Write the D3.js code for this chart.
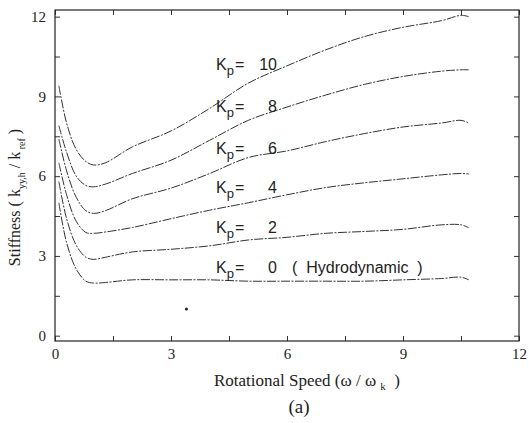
<!DOCTYPE html>
<html>
<head>
<meta charset="utf-8">
<script src="https://cdn.jsdelivr.net/npm/d3@7"></script>
<style>
  body { margin: 0; background: #fff; }
  svg text { fill: #222; white-space: pre; }
  .tick line { stroke: #333; }
  .axis text { font-family: "Liberation Serif", "DejaVu Serif", serif; font-size: 15px; }
</style>
</head>
<body>
<div id="chart"></div>
<script>
// rotational speed (omega / omega_k) sample points, shared by all curves
var speed = [0.1, 0.3, 0.55, 0.8, 1.0, 1.3, 2, 3, 4, 5, 6, 7, 8, 9, 10, 10.5, 10.7];

// stiffness k_yy,h / k_ref for each Kp
var kp10 = [9.4, 8.0, 7.0, 6.55, 6.42, 6.5, 7.1, 7.7, 8.55, 9.5, 10.15, 10.75, 11.25, 11.6, 11.85, 12.05, 12.0];
var kp8  = [7.9, 6.9, 6.0, 5.65, 5.6, 5.7, 6.1, 6.6, 7.35, 8.1, 8.6, 9.05, 9.45, 9.75, 9.95, 10.0, 10.0];
var kp6  = [7.4, 6.2, 5.2, 4.7, 4.6, 4.7, 5.15, 5.55, 6.1, 6.7, 6.95, 7.3, 7.6, 7.85, 8.0, 8.1, 8.0];
var kp4  = [6.5, 5.3, 4.3, 3.88, 3.85, 3.9, 4.07, 4.4, 4.72, 5.0, 5.3, 5.57, 5.75, 5.9, 6.05, 6.1, 6.08];
var kp2  = [5.8, 4.4, 3.4, 2.95, 2.87, 2.95, 3.15, 3.25, 3.38, 3.6, 3.7, 3.85, 3.92, 4.0, 4.17, 4.17, 4.06];
var kp0  = [5.0, 3.5, 2.5, 2.05, 1.98, 2.0, 2.1, 2.1, 2.1, 2.05, 2.05, 2.05, 2.05, 2.1, 2.15, 2.2, 2.1];

var seriesNames = ['10', '8', '6', '4', '2', '0'];
var seriesValues = [kp10, kp8, kp6, kp4, kp2, kp0];
// y value where each "Kp =" label sits
var labelLevels = [10.0, 8.4, 6.85, 5.35, 3.85, 2.35];

var xTicks = [0, 1.5, 3, 4.5, 6, 7.5, 9, 10.5, 12];
var yTicks = [0, 1.5, 3, 4.5, 6, 7.5, 9, 10.5, 12];

// stray mark on the scanned figure
var strayDot = [3.4, 1.0];

var width = 529, height = 423;
var margin = {top: 10, right: 10, bottom: 82, left: 55};
var w = width - margin.left - margin.right;
var h = height - margin.top - margin.bottom;

var svg = d3.select('#chart').append('svg')
  .attr('width', width)
  .attr('height', height)
.append('g')
  .attr('transform', 'translate(' + margin.left + ',' + margin.top + ')');

var x = d3.scaleLinear().domain([0, 12]).range([0, w]);
var y = d3.scaleLinear().domain([-0.2, 12.25]).range([h, 0]);

function lbl(d) { return d % 3 === 0 ? d : ''; }

svg.append('g')
  .attr('class', 'axis')
  .attr('transform', 'translate(0,' + h + ')')
  .call(d3.axisBottom(x).tickValues(xTicks).tickSize(-5).tickPadding(7).tickFormat(lbl));

svg.append('g')
  .attr('class', 'axis')
  .call(d3.axisTop(x).tickValues(xTicks).tickSize(-5).tickFormat(''));

svg.append('g')
  .attr('class', 'axis')
  .call(d3.axisLeft(y).tickValues(yTicks).tickSize(-5).tickPadding(9).tickFormat(lbl));

svg.append('g')
  .attr('class', 'axis')
  .attr('transform', 'translate(' + w + ',0)')
  .call(d3.axisRight(y).tickValues(yTicks).tickSize(-5).tickFormat(''));

svg.selectAll('.axis .domain').remove();

svg.append('rect')
  .attr('width', w)
  .attr('height', h)
  .attr('fill', 'none')
  .attr('stroke', '#222')
  .attr('stroke-width', 1.2);

var line = d3.line()
  .x(function(d) { return x(d[0]); })
  .y(function(d) { return y(d[1]); })
  .curve(d3.curveCatmullRom);

svg.selectAll('.curve')
  .data(seriesValues)
.enter().append('path')
  .attr('class', 'curve')
  .attr('fill', 'none')
  .attr('stroke', '#333')
  .attr('stroke-width', 1)
  .attr('stroke-dasharray', '9,1.5,2,1.5')
  .attr('d', function(vals) {
    return line(vals.map(function(v, i) { return [speed[i], v]; }));
  });

svg.append('circle')
  .attr('cx', x(strayDot[0]))
  .attr('cy', y(strayDot[1]))
  .attr('r', 1.5)
  .attr('fill', '#222');

// Kp labels
var lab = svg.selectAll('.kp-label')
  .data(seriesNames)
.enter().append('g')
  .attr('class', 'kp-label')
  .attr('transform', function(d, i) { return 'translate(0,' + y(labelLevels[i]) + ')'; })
  .style('font-family', '"Liberation Sans", Arial, sans-serif')
  .style('font-size', '16px');

var kt = lab.append('text')
  .attr('x', 161)
  .attr('y', 0);
kt.append('tspan').text('K');
kt.append('tspan').attr('dy', 5).style('font-size', '13px').text('p');
kt.append('tspan').attr('dy', -5).attr('dx', 1).text('=');

lab.append('text')
  .attr('x', 222)
  .attr('text-anchor', 'end')
  .text(function(d) { return d; });

svg.append('text')
  .attr('x', 237)
  .attr('y', y(labelLevels[5]))
  .style('font-family', '"Liberation Sans", Arial, sans-serif')
  .style('font-size', '16px')
  .text('(  Hydrodynamic  )');

// axis titles
var xt = svg.append('text')
  .attr('x', w / 2 + 20)
  .attr('y', h + 45)
  .attr('text-anchor', 'middle')
  .style('font-family', '"Liberation Serif", serif')
  .style('font-size', '17px');
xt.append('tspan').text('Rotational Speed (\u03c9 / \u03c9 ');
xt.append('tspan').attr('dy', 4).style('font-size', '11px').text('k');
xt.append('tspan').attr('dy', -4).text('  )');

var yt = svg.append('text')
  .attr('transform', 'translate(-35,' + (h / 2 + 22) + ') rotate(-90)')
  .attr('text-anchor', 'middle')
  .style('font-family', '"Liberation Serif", serif')
  .style('font-size', '16px');
yt.append('tspan').text('Stiffness ( k');
yt.append('tspan').attr('dy', 5).style('font-size', '10px').text('yy,h');
yt.append('tspan').attr('dy', -5).text(' / k');
yt.append('tspan').attr('dy', 5).style('font-size', '10px').text(' ref');
yt.append('tspan').attr('dy', -5).text(' )');

svg.append('text')
  .attr('x', w / 2 + 12)
  .attr('y', h + 72)
  .attr('text-anchor', 'middle')
  .style('font-family', '"Liberation Serif", serif')
  .style('font-size', '19px')
  .text('(a)');
</script>
</body>
</html>
